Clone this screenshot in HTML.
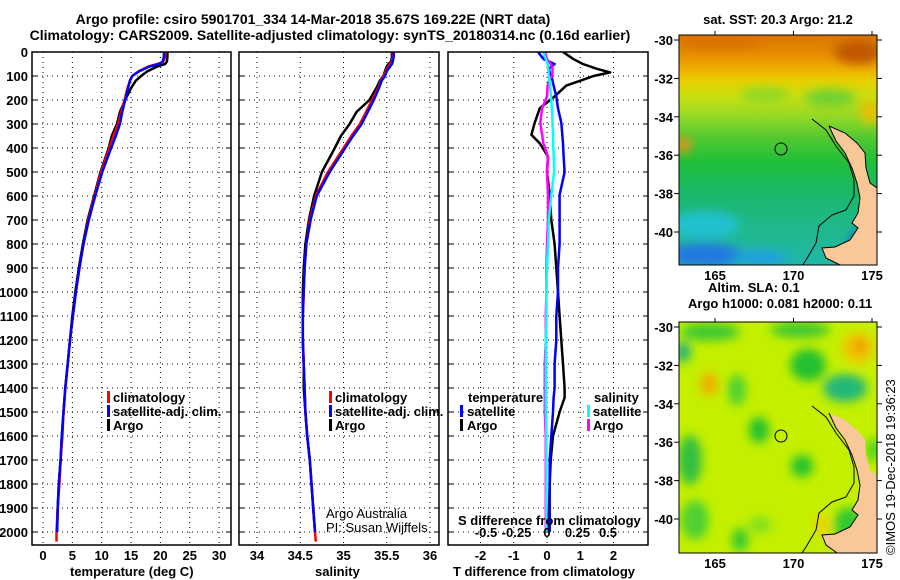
<!DOCTYPE html>
<html><head><meta charset="utf-8"><style>
body{margin:0;background:#fff;}
svg{display:block;font-family:"Liberation Sans",Arial,sans-serif;}
.t{font-weight:bold;font-size:13px;fill:#000}
.n{font-size:13px;fill:#000}
</style></head><body>
<svg id="fig" width="900" height="580" viewBox="0 0 900 580">
<defs>
<clipPath id="cp1"><rect x="32" y="52" width="199" height="493"/></clipPath>
<clipPath id="cp2"><rect x="239" y="52" width="200" height="493"/></clipPath>
<clipPath id="cp3"><rect x="448" y="52" width="200" height="493"/></clipPath>
</defs>
<text class="t" x="313" y="24" text-anchor="middle" style="font-size:14px">Argo profile: csiro 5901701_334 14-Mar-2018 35.67S 169.22E (NRT data)</text>
<text class="t" x="330" y="40" text-anchor="middle" style="font-size:14px">Climatology: CARS2009. Satellite-adjusted climatology: synTS_20180314.nc (0.16d earlier)</text>
<g id="grid"></g>
<g id="marks"></g>
<g id="frames"></g>
</svg>
<script>
// ---------- data ----------
const depths = [0,20,40,50,60,80,100,120,150,200,250,300,350,400,500,600,700,800,900,1000,1100,1200,1300,1400,1500,1600,1700,1800,1900,2000,2040];
const argoT = [21.2,21.2,21.1,20.8,19.5,17.8,16.7,15.8,15.0,14.0,13.1,12.6,11.7,11.2,9.8,8.7,7.6,6.8,6.1,5.5,5.0,4.6,4.2,3.8,3.5,3.2,3.0,2.7,2.5,2.4,null];
const climT = [20.9,20.8,20.5,19.5,18.0,16.3,15.2,14.8,14.4,13.9,13.3,12.8,12.0,11.3,9.9,8.8,7.7,6.9,6.2,5.6,5.1,4.6,4.2,3.8,3.5,3.3,3.0,2.8,2.5,2.3,2.3];
const satT = [20.6,20.6,20.4,19.8,18.2,16.4,15.2,14.8,14.5,14.0,13.5,13.1,12.4,11.6,10.1,8.9,7.8,6.9,6.2,5.6,5.1,4.6,4.2,3.8,3.5,3.2,3.0,2.7,2.5,2.4,null];
const argoS = [35.56,35.56,35.55,35.52,35.50,35.48,35.46,35.42,35.38,35.30,35.15,35.07,34.97,34.90,34.75,34.66,34.60,34.56,34.54,34.53,34.53,34.53,34.54,34.54,34.56,34.58,34.61,34.63,34.65,34.67,null];
const climS = [35.57,35.57,35.56,35.54,35.52,35.49,35.46,35.43,35.40,35.33,35.26,35.19,35.09,35.00,34.82,34.68,34.61,34.57,34.55,34.54,34.53,34.53,34.54,34.55,34.56,34.58,34.61,34.63,34.65,34.67,34.68];
const satS = [35.58,35.58,35.57,35.56,35.54,35.50,35.48,35.44,35.41,35.35,35.28,35.21,35.11,35.02,34.84,34.69,34.62,34.57,34.55,34.54,34.53,34.53,34.54,34.55,34.56,34.58,34.61,34.63,34.65,34.67,null];
const dDepths = [0,30,50,70,85,100,115,140,185,235,295,345,380,435,500,595,700,800,900,1000,1100,1200,1300,1400,1440,1500,1600,1700,1800,1900,2000];
const argoTd = [0.48,0.8,1.08,1.5,1.9,1.4,1.1,0.58,0.23,-0.22,-0.37,-0.47,-0.22,0.03,0,0.08,0.13,0.23,0.28,0.33,0.38,0.43,0.48,0.53,0.53,0.38,0.18,0.11,0.08,0.06,0.03];
const satTd = [-0.27,-0.1,0.23,0.05,0.08,0.13,0.16,0.2,0.28,0.33,0.43,0.46,0.48,0.5,0.53,0.38,0.38,0.38,0.33,0.33,0.28,0.28,0.23,0.23,0.2,0.18,0.13,0.08,0.08,0.08,0.08];
const argoSd = [-0.018,0,0.03,0.045,0.045,0.04,0.02,0.005,0,-0.04,-0.055,-0.04,-0.03,0.008,0,0.008,0.008,0,-0.005,-0.005,-0.01,-0.01,-0.018,-0.018,-0.018,-0.018,-0.01,-0.01,-0.01,-0.01,-0.01];
const satSd = [-0.03,-0.01,0.005,0.01,0.012,0.015,0.02,0.025,0.033,0.04,0.045,0.05,0.05,0.055,0.058,0.035,0.015,0.008,0,-0.005,-0.005,-0.01,-0.01,-0.01,-0.01,-0.01,-0.005,-0.005,-0.005,-0.005,-0.005];
const depthTicks = [0,100,200,300,400,500,600,700,800,900,1000,1100,1200,1300,1400,1500,1600,1700,1800,1900,2000];
const tTicks = [0,5,10,15,20,25,30];
const sTicks = [34,34.5,35,35.5,36];
const sTickLabels = ["34","34.5","35","35.5","36"];
const tdTicks = [-2,-1,0,1,2];
const sdTicks = [-0.5,-0.25,0,0.25,0.5];
const sdTickLabels = ["-0.5","-0.25","0","0.25","0.5"];
const latTicks = [-30,-32,-34,-36,-38,-40];
const lonTicks = [165,170,175];

// ---------- scales ----------
const NS="http://www.w3.org/2000/svg";
const yD = d => 52 + d*0.24;
const xT = t => 43 + t*5.87;
const xS = s => 257 + (s-34)*86.5;
const xTd = v => 547 + v*33.25;
const xSd = v => 547 + v*122;
const xLon = l => 715 + (l-165)*15.7;
const yLat1 = l => 40 + (-30 - l)*19.2;
const yLat2 = l => 327 + (-30 - l)*19.2;

function mk(tag, attrs, parent, txt){
  const e=document.createElementNS(NS,tag);
  for(const k in attrs) e.setAttribute(k,attrs[k]);
  if(txt!==undefined) e.textContent=txt;
  parent.appendChild(e); return e;
}
const G=document.getElementById('grid'), M=document.getElementById('marks'), F=document.getElementById('frames');
const panels=[{x0:32,x1:231},{x0:239,x1:439},{x0:448,x1:648}];

panels.forEach((p,i)=>{
  depthTicks.forEach(d=>{
    if(d===0) return;
    const l=mk('line',{x1:p.x0,x2:p.x1,y1:yD(d),y2:yD(d),stroke:'#000','stroke-width':1,'stroke-dasharray':'1,4'},G);
    
    
    mk('line',{x1:p.x0,x2:p.x0+5,y1:yD(d),y2:yD(d),stroke:'#000'},G);
    mk('line',{x1:p.x1-5,x2:p.x1,y1:yD(d),y2:yD(d),stroke:'#000'},G);
  });
});
tTicks.forEach(t=>{const l=mk('line',{x1:xT(t),x2:xT(t),y1:52,y2:545,stroke:'#000','stroke-dasharray':'1,4'},G);
  
  
  const tx=mk('text',{x:xT(t),y:560,'text-anchor':'middle',class:'t'},F,String(t));
  
  });
sTicks.forEach((s,i)=>{const l=mk('line',{x1:xS(s),x2:xS(s),y1:52,y2:545,stroke:'#000','stroke-dasharray':'1,4'},G);
  
  
  const tx=mk('text',{x:xS(s),y:560,'text-anchor':'middle',class:'t'},F,sTickLabels[i]);
  
  });
tdTicks.forEach(v=>{const l=mk('line',{x1:xTd(v),x2:xTd(v),y1:52,y2:545,stroke:'#000','stroke-dasharray':'1,4'},G);
  
  
  const tx=mk('text',{x:xTd(v),y:560,'text-anchor':'middle',class:'t'},F,String(v));
  
  });
sdTicks.forEach((v,i)=>{
  const tx=mk('text',{x:xSd(v),y:537,'text-anchor':'middle',class:'t'},F,sdTickLabels[i]);
  
  });
depthTicks.forEach(d=>{
  const tx=mk('text',{x:28,y:yD(d)+5,'text-anchor':'end',class:'t'},F,String(d));
  
  });

function line(xs,ys,xf,yf,color,clip,name){
  let d='';let pen=false;
  xs.forEach((v,i)=>{ if(v===null){pen=false;return;} d+=(pen?'L':'M')+xf(v).toFixed(1)+','+yf(ys[i]).toFixed(1); pen=true;});
  const p=mk('path',{d:d,fill:'none',stroke:color,'stroke-width':2.5,'clip-path':'url(#'+clip+')','stroke-linejoin':'round'},M);
  
  
}
line(argoT,depths,xT,yD,'#000','cp1','argo-temperature-line');
line(climT,depths,xT,yD,'#f00','cp1','climatology-temperature-line');
line(satT,depths,xT,yD,'#00f','cp1','satellite-temperature-line');
line(argoS,depths,xS,yD,'#000','cp2','argo-salinity-line');
line(climS,depths,xS,yD,'#f00','cp2','climatology-salinity-line');
line(satS,depths,xS,yD,'#00f','cp2','satellite-salinity-line');
line(argoTd,dDepths,xTd,yD,'#000','cp3','argo-tdiff-line');
line(satTd,dDepths,xTd,yD,'#00f','cp3','satellite-tdiff-line');
line(argoSd,dDepths,xSd,yD,'#f0f','cp3','argo-sdiff-line');
line(satSd,dDepths,xSd,yD,'#0ff','cp3','satellite-sdiff-line');

panels.forEach((p,i)=>{const r=mk('rect',{x:p.x0,y:52,width:p.x1-p.x0,height:493,fill:'none',stroke:'#000','stroke-width':1.5},F);
  
  });
</script>
<svg width="900" height="580" style="position:absolute;left:0;top:0" viewBox="0 0 900 580">
<defs>
<clipPath id="cmA"><rect x="679" y="35" width="198" height="230"/></clipPath>
<clipPath id="cmB"><rect x="679" y="322" width="198" height="231"/></clipPath>
<filter id="blA" x="-50%" y="-50%" width="200%" height="200%"><feGaussianBlur stdDeviation="5"/></filter>
<filter id="blB" x="-50%" y="-50%" width="200%" height="200%"><feGaussianBlur stdDeviation="5"/></filter>
<linearGradient id="sstB" x1="0" y1="0" x2="0" y2="1">
<stop offset="0" stop-color="#d87400"/><stop offset="0.08" stop-color="#e68c00"/>
<stop offset="0.15" stop-color="#f0b000"/><stop offset="0.2" stop-color="#e8d000"/>
<stop offset="0.27" stop-color="#c8e010"/><stop offset="0.36" stop-color="#90d828"/>
<stop offset="0.45" stop-color="#50c830"/><stop offset="0.55" stop-color="#20c038"/>
<stop offset="0.68" stop-color="#18b868"/><stop offset="0.82" stop-color="#20b888"/>
<stop offset="1" stop-color="#20b8a8"/></linearGradient>
</defs>
<text x="70" y="576" class="t">temperature (deg C)</text>
<text x="315" y="576" class="t">salinity</text>
<text x="453" y="576" class="t">T difference from climatology</text>
<text x="458" y="525" class="t">S difference from climatology</text>
<g>
<rect x="107" y="391" width="3" height="12" fill="#f00"/><text x="113" y="402" class="t">climatology</text>
<rect x="107" y="405" width="3" height="12" fill="#00f"/><text x="113" y="416" class="t">satellite-adj. clim.</text>
<rect x="107" y="419" width="3" height="12" fill="#000"/><text x="113" y="430" class="t">Argo</text>
</g>
<g>
<rect x="329" y="391" width="3" height="12" fill="#f00"/><text x="335" y="402" class="t">climatology</text>
<rect x="329" y="405" width="3" height="12" fill="#00f"/><text x="335" y="416" class="t">satellite-adj. clim.</text>
<rect x="329" y="419" width="3" height="12" fill="#000"/><text x="335" y="430" class="t">Argo</text>
</g>
<g>
<text x="468" y="402" class="t">temperature</text>
<rect x="460" y="405" width="3" height="12" fill="#00f"/><text x="467" y="416" class="t">satellite</text>
<rect x="460" y="419" width="3" height="12" fill="#000"/><text x="467" y="430" class="t">Argo</text>
<text x="594" y="402" class="t">salinity</text>
<rect x="587" y="405" width="3" height="12" fill="#0ff"/><text x="593" y="416" class="t">satellite</text>
<rect x="587" y="419" width="3" height="12" fill="#f0f"/><text x="593" y="430" class="t">Argo</text>
</g>
<text x="326" y="518" class="n">Argo Australia</text>
<text x="326" y="532" class="n">PI: Susan Wijffels</text>

<!-- SST map -->
<g clip-path="url(#cmA)">
<rect x="679" y="35" width="198" height="230" fill="url(#sstB)"/>
<g filter="url(#blA)">
<ellipse cx="858" cy="52" rx="24" ry="12" fill="#c05800"/>
<ellipse cx="720" cy="42" rx="40" ry="6" fill="#d87000"/>
<ellipse cx="830" cy="98" rx="26" ry="9" fill="#70d030"/>
<ellipse cx="765" cy="95" rx="25" ry="8" fill="#90d828"/>
<ellipse cx="684" cy="145" rx="7" ry="8" fill="#f09020"/>
<ellipse cx="870" cy="112" rx="10" ry="12" fill="#e8c000"/>
<ellipse cx="705" cy="225" rx="35" ry="14" fill="#20c0d0"/>
<ellipse cx="705" cy="255" rx="38" ry="12" fill="#2078e0"/>
<ellipse cx="760" cy="258" rx="28" ry="8" fill="#20a0e0"/>
<ellipse cx="862" cy="242" rx="12" ry="12" fill="#1060e0"/>
</g>
<circle cx="866" cy="256" r="7" fill="#102090"/>
<polygon points="829,126 845,133 857,143 865,153 866,168 870,183 877,188 877,265 840,265 826,258 822,248 835,247 850,240 858,228 852,223 858,213 860,198 857,183 852,168 845,153 836,141" fill="#f8c898"/>
<polyline points="812,119 826,130 836,146 849,163 854,180 854,196 846,210 832,215 819,226 816,243 806,260 802,266" fill="none" stroke="#000" stroke-width="1"/>
<polyline points="829,126 845,133 857,143 865,153 866,168 870,183 877,188" fill="none" stroke="#000" stroke-width="1"/>
<polyline points="877,265 840,265 826,258 822,248 835,247 850,240 858,228 852,223 858,213 860,198 857,183 852,168 845,153 836,141 829,126" fill="none" stroke="#000" stroke-width="1"/>
<circle cx="781" cy="149" r="6" fill="none" stroke="#000"/>
</g>
<rect x="679" y="35" width="198" height="230" fill="none" stroke="#000"/>
<text x="778" y="24" text-anchor="middle" class="t">sat. SST: 20.3 Argo: 21.2</text>

<!-- SLA map -->
<g clip-path="url(#cmB)">
<rect x="679" y="322" width="198" height="231" fill="#c4f000"/>
<g filter="url(#blB)">
<ellipse cx="710" cy="332" rx="30" ry="9" fill="#40c830"/>
<ellipse cx="683" cy="352" rx="8" ry="10" fill="#20b080"/>
<ellipse cx="800" cy="330" rx="30" ry="8" fill="#40c830"/>
<ellipse cx="808" cy="365" rx="18" ry="16" fill="#20c030"/>
<ellipse cx="845" cy="388" rx="22" ry="14" fill="#20b878"/>
<ellipse cx="858" cy="348" rx="16" ry="16" fill="#f0c800"/>
<ellipse cx="860" cy="346" rx="8" ry="8" fill="#f0a000"/>
<ellipse cx="709" cy="384" rx="9" ry="12" fill="#f0b000"/>
<ellipse cx="737" cy="390" rx="9" ry="16" fill="#50d030"/>
<ellipse cx="759" cy="430" rx="10" ry="13" fill="#20c030"/>
<ellipse cx="802" cy="466" rx="11" ry="11" fill="#20c030"/>
<ellipse cx="690" cy="460" rx="12" ry="25" fill="#30c040"/>
<ellipse cx="695" cy="520" rx="14" ry="20" fill="#50d030"/>
<ellipse cx="740" cy="540" rx="8" ry="12" fill="#30c830"/>
<ellipse cx="760" cy="525" rx="12" ry="8" fill="#80e020"/>
<ellipse cx="848" cy="525" rx="14" ry="18" fill="#30c830"/>
<ellipse cx="822" cy="525" rx="8" ry="10" fill="#f0d000"/>
<ellipse cx="873" cy="450" rx="6" ry="12" fill="#40d020"/>
</g>
<polygon points="829,413 845,420 857,430 865,440 866,455 870,470 877,475 877,555 840,555 826,545 822,535 835,534 850,527 858,515 852,510 858,500 860,485 857,470 852,455 845,440 836,428" fill="#f8c898"/>
<polyline points="812,406 826,417 836,433 849,450 854,467 854,483 846,497 832,502 819,513 816,530 806,547 802,553" fill="none" stroke="#000" stroke-width="1"/>
<polyline points="877,555 840,555 826,545 822,535 835,534 850,527 858,515 852,510 858,500 860,485 857,470 852,455 845,440 836,428 829,413" fill="none" stroke="#000" stroke-width="1"/>
<circle cx="781" cy="436" r="6" fill="none" stroke="#000"/>
</g>
<rect x="679" y="322" width="198" height="231" fill="none" stroke="#000"/>
<text x="708" y="292" class="t">Altim. SLA: 0.1</text>
<text x="688" y="308" class="t">Argo h1000: 0.081 h2000: 0.11</text>
<text transform="translate(895,555) rotate(-90)" class="n">©IMOS 19-Dec-2018 19:36:23</text>
<g id="mapaxes"></g>
</svg>
<script>
(function(){
  const A=document.getElementById('mapaxes');
  latTicks.forEach(l=>{
    [yLat1,yLat2].forEach(f=>{
      const y=f(l);
      const t=mk('text',{x:673,y:y+5,'text-anchor':'end',class:'t'},A,String(l));
      
      
      mk('line',{x1:674,x2:679,y1:y,y2:y,stroke:'#000'},A);
      mk('line',{x1:877,x2:882,y1:y,y2:y,stroke:'#000'},A);
    });
  });
  lonTicks.forEach(l=>{
    const x=xLon(l);
    [280,568].forEach(y=>{
      const t=mk('text',{x:x,y:y,'text-anchor':'middle',class:'t'},A,String(l));
      
      
    });
    mk('line',{x1:x,x2:x,y1:35,y2:31,stroke:'#000'},A);
    mk('line',{x1:x,x2:x,y1:322,y2:318,stroke:'#000'},A);
  });
})();
</script>
</body></html>
